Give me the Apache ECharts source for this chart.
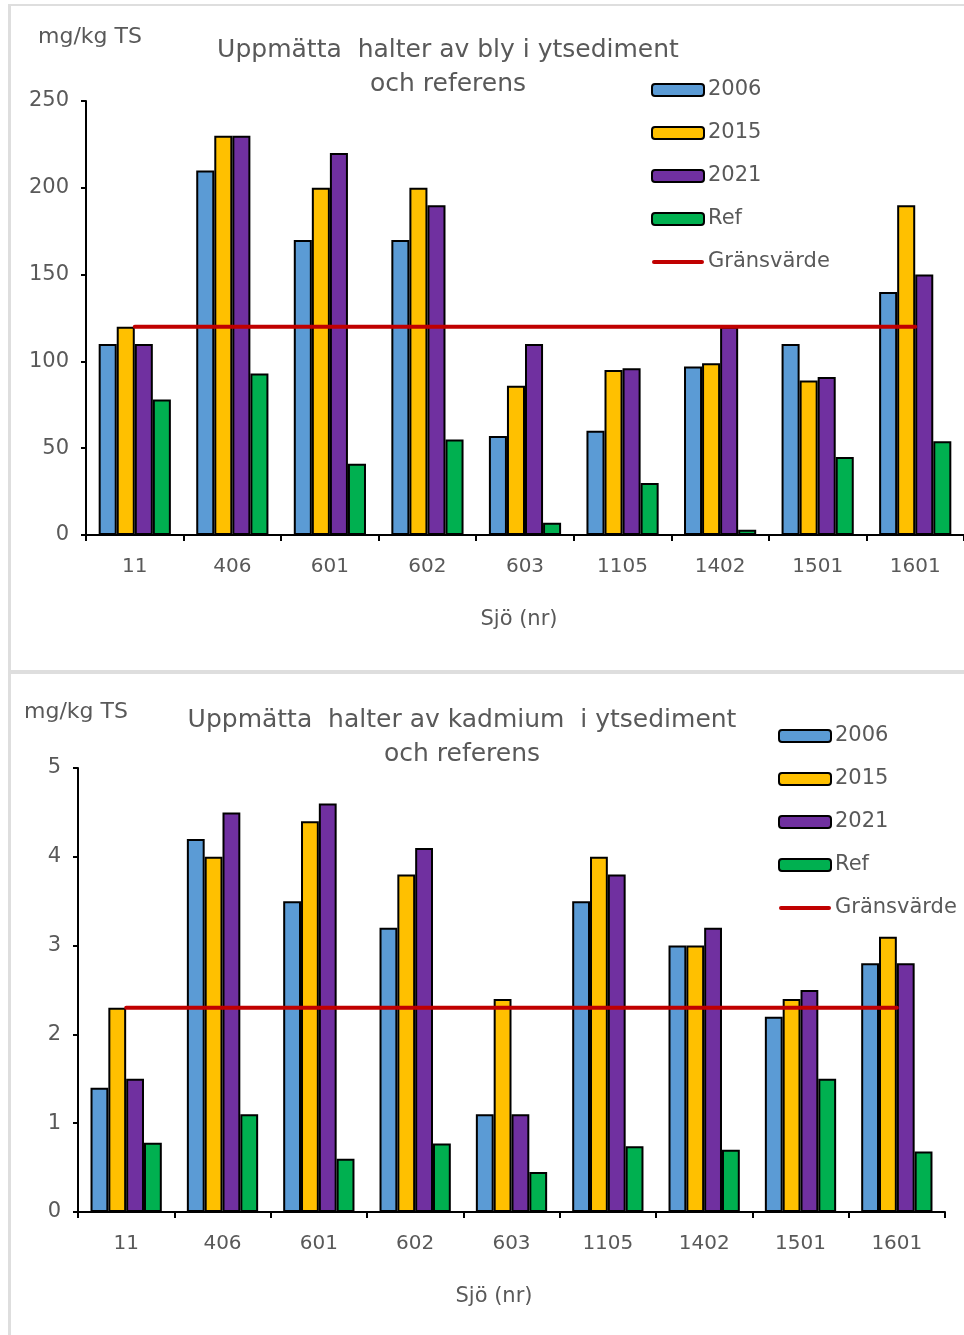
<!DOCTYPE html>
<html>
<head>
<meta charset="utf-8">
<title>Bly och kadmium i ytsediment</title>
<script src="https://cdn.jsdelivr.net/npm/echarts@6/dist/echarts.min.js"></script>
<style>
  html, body { margin: 0; padding: 0; background: #fff; }
  #chart { width: 964px; height: 1335px; }
</style>
</head>
<body>
<div id="chart"></div>
<script>
// sjöar (x-axel)
const lakes = ['11', '406', '601', '602', '603', '1105', '1402', '1501', '1601'];

// bly, mg/kg TS
const bly2006 = [110, 210, 170, 170, 57, 60, 97, 110, 140];
const bly2015 = [120, 230, 200, 200, 86, 95, 99, 89, 190];
const bly2021 = [110, 230, 220, 190, 110, 96, 120, 91, 150];
const blyRef = [78, 93, 41, 55, 7, 30, 3, 45, 54];
const blyLimit = 120;

// kadmium, mg/kg TS
const kad2006 = [1.4, 4.2, 3.5, 3.2, 1.1, 3.5, 3.0, 2.2, 2.8];
const kad2015 = [2.3, 4.0, 4.4, 3.8, 2.4, 4.0, 3.0, 2.4, 3.1];
const kad2021 = [1.5, 4.5, 4.6, 4.1, 1.1, 3.8, 3.2, 2.5, 2.8];
const kadRef = [0.78, 1.1, 0.6, 0.77, 0.45, 0.74, 0.7, 1.5, 0.68];
const kadLimit = 2.3;

const barNames = ['2006', '2015', '2021', 'Ref'];
const limitName = 'Gränsvärde';
const barColors = ['#5B9BD5', '#FFC000', '#7030A0', '#00B050'];
const LIMIT_COLOR = '#C00000';

const FONT = 'DejaVu Sans';
const GRAY = '#595959';

function barSeries(name, data, color, idx) {
  return {
    name,
    type: 'bar',
    xAxisIndex: idx,
    yAxisIndex: idx,
    data,
    barGap: '0%',
    barCategoryGap: '26%',
    itemStyle: { color, borderColor: '#000', borderWidth: 2 },
    emphasis: { disabled: true }
  };
}

function limitSeries(value, idx) {
  return {
    name: limitName,
    type: 'line',
    xAxisIndex: idx,
    yAxisIndex: idx,
    data: lakes.map(() => value),
    symbol: 'none',
    z: 5,
    lineStyle: { color: LIMIT_COLOR, width: 4, cap: 'round' },
    itemStyle: { color: LIMIT_COLOR },
    emphasis: { disabled: true }
  };
}

function xAxis(idx) {
  return {
    type: 'category',
    gridIndex: idx,
    data: lakes,
    axisLine: { lineStyle: { color: '#000', width: 2 } },
    axisTick: { show: true, length: 6, lineStyle: { color: '#000', width: 2 } },
    axisLabel: { color: GRAY, fontFamily: FONT, fontSize: 20, margin: 22 },
    splitLine: { show: false }
  };
}

function yAxis(idx, max, interval) {
  return {
    type: 'value',
    gridIndex: idx,
    min: 0,
    max,
    interval,
    axisLine: { show: true, lineStyle: { color: '#000', width: 2 } },
    axisTick: { show: true, length: 5, lineStyle: { color: '#000', width: 2 } },
    axisLabel: { color: GRAY, fontFamily: FONT, fontSize: 21, margin: 17 },
    splitLine: { show: false }
  };
}

function legend(left, top) {
  // gränsvärdet visas som ett rakt streck, utan punkt
  const data = barNames.concat([{
    name: limitName,
    icon: 'path://M2,0 L50,0 A2,2 0 0 1 50,4 L2,4 A2,2 0 0 1 2,0 Z',
    itemStyle: { color: LIMIT_COLOR, borderWidth: 0 }
  }]);
  return {
    orient: 'vertical',
    left,
    top,
    padding: 0,
    data,
    itemWidth: 52,
    itemHeight: 12,
    itemGap: 21,
    selectedMode: false,
    textStyle: { color: GRAY, fontFamily: FONT, fontSize: 21, lineHeight: 22, padding: [0, 0, 0, -1] }
  };
}

function titleText(text, x, y, size, lh) {
  return {
    text,
    left: x,
    top: y,
    padding: 0,
    textAlign: 'center',
    textStyle: { color: GRAY, fontFamily: FONT, fontSize: size, fontWeight: 'normal', lineHeight: lh }
  };
}

const option = {
  animation: false,
  backgroundColor: '#fff',
  title: [
    titleText('Uppmätta  halter av bly i ytsediment\noch referens', 448, 33, 25, 34),
    titleText('mg/kg TS', 90, 25, 22, 24),
    titleText('Sjö (nr)', 519, 609, 21, 22),
    titleText('Uppmätta  halter av kadmium  i ytsediment\noch referens', 462, 703, 25, 34),
    titleText('mg/kg TS', 76, 700, 22, 24),
    titleText('Sjö (nr)', 494, 1286, 21, 22)
  ],
  legend: [legend(651, 79), legend(778, 725)],
  grid: [
    { left: 86, top: 101, width: 878, height: 434 },
    { left: 78, top: 768, width: 867, height: 444 }
  ],
  xAxis: [xAxis(0), xAxis(1)],
  yAxis: [yAxis(0, 250, 50), yAxis(1, 5, 1)],
  series: [
    barSeries('2006', bly2006, barColors[0], 0),
    barSeries('2015', bly2015, barColors[1], 0),
    barSeries('2021', bly2021, barColors[2], 0),
    barSeries('Ref', blyRef, barColors[3], 0),
    limitSeries(blyLimit, 0),
    barSeries('2006', kad2006, barColors[0], 1),
    barSeries('2015', kad2015, barColors[1], 1),
    barSeries('2021', kad2021, barColors[2], 1),
    barSeries('Ref', kadRef, barColors[3], 1),
    limitSeries(kadLimit, 1)
  ],
  // ramar runt de två panelerna
  graphic: [
    { type: 'rect', shape: { x: 8, y: 4, width: 3, height: 1331 }, style: { fill: '#dedede' }, silent: true },
    { type: 'rect', shape: { x: 8, y: 4, width: 956, height: 2 }, style: { fill: '#dedede' }, silent: true },
    { type: 'rect', shape: { x: 8, y: 670, width: 956, height: 4 }, style: { fill: '#dedede' }, silent: true }
  ]
};

const chart = echarts.init(document.getElementById('chart'), null, { renderer: 'canvas' });
chart.setOption(option);
</script>
</body>
</html>
